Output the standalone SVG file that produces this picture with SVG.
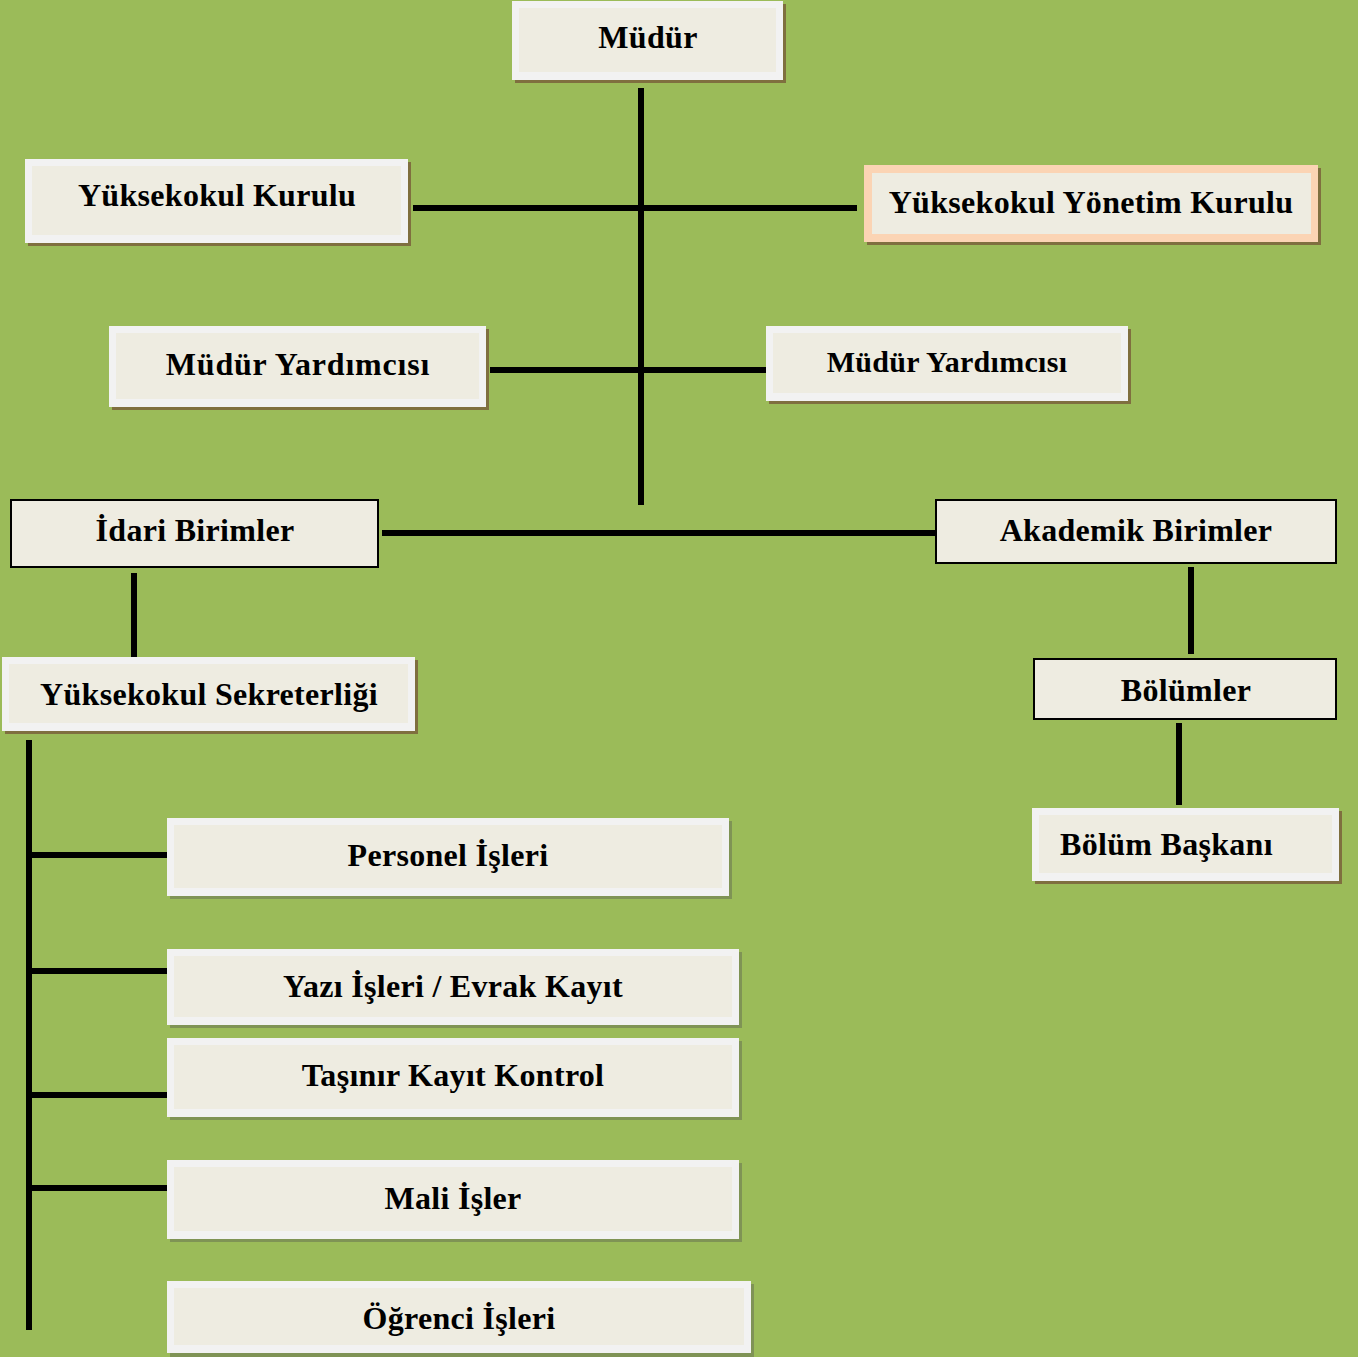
<svg xmlns="http://www.w3.org/2000/svg" width="1358" height="1357" viewBox="0 0 1358 1357">
<style>
.bg{fill:#9bbb59}
.sh{fill:#7f6f3f}
.sg{fill:#7f9355}
.out{fill:#f2f2f2}
.pe{fill:#fbd4b4}
.in{fill:#eeece1}
.bx{fill:#eeece1;stroke:#000;stroke-width:2}
.t{font-family:"Liberation Serif","Times New Roman",serif;font-weight:bold;font-size:32px;letter-spacing:0.3px;fill:#000;text-anchor:middle}
.ln{stroke:#000;stroke-width:6;fill:none}
</style>
<rect class="bg" x="0" y="0" width="1358" height="1357"/>
<g id="connectors">
<line class="ln" x1="641" y1="88" x2="641" y2="505"/>
<line class="ln" x1="413" y1="208" x2="857" y2="208"/>
<line class="ln" x1="490" y1="370" x2="769" y2="370"/>
<line class="ln" x1="382" y1="533" x2="936" y2="533"/>
<line class="ln" x1="134" y1="573" x2="134" y2="657"/>
<line class="ln" x1="1191" y1="567" x2="1191" y2="654"/>
<line class="ln" x1="1179" y1="723" x2="1179" y2="805"/>
<line class="ln" x1="29" y1="740" x2="29" y2="1330"/>
<line class="ln" x1="29" y1="855" x2="170" y2="855"/>
<line class="ln" x1="29" y1="971" x2="167" y2="971"/>
<line class="ln" x1="29" y1="1095" x2="167" y2="1095"/>
<line class="ln" x1="29" y1="1188" x2="170" y2="1188"/>
</g>
<g id="mudur">
<rect class="sh" x="515" y="4" width="271" height="79"/>
<rect class="out" x="512" y="1" width="271" height="79"/>
<rect class="in" x="519" y="8" width="257" height="64"/>
<text class="t" x="648" y="48">Müdür</text>
</g>
<g id="yk-kurulu">
<rect class="sh" x="28" y="162" width="383" height="84"/>
<rect class="out" x="25" y="159" width="383" height="84"/>
<rect class="in" x="32" y="166" width="369" height="69"/>
<text class="t" x="217" y="206">Yüksekokul Kurulu</text>
</g>
<g id="yk-yonetim">
<rect class="sh" x="867" y="168" width="454" height="77"/>
<rect class="pe" x="864" y="165" width="454" height="77"/>
<rect class="in" x="872" y="173" width="439" height="61"/>
<text class="t" x="1091" y="213">Yüksekokul Yönetim Kurulu</text>
</g>
<g id="mudur-yrd-sol">
<rect class="sh" x="112" y="329" width="377" height="81"/>
<rect class="out" x="109" y="326" width="377" height="81"/>
<rect class="in" x="116" y="333" width="363" height="66"/>
<text class="t" x="298" y="375" style="letter-spacing:0.8px">Müdür Yardımcısı</text>
</g>
<g id="mudur-yrd-sag">
<rect class="sh" x="769" y="329" width="362" height="75"/>
<rect class="out" x="766" y="326" width="362" height="75"/>
<rect class="in" x="773" y="333" width="348" height="60"/>
<text class="t" x="947" y="372" style="font-size:30px">Müdür Yardımcısı</text>
</g>
<g id="idari-birimler">
<rect class="bx" x="11" y="500" width="367" height="67"/>
<text class="t" x="195" y="541">İdari Birimler</text>
</g>
<g id="akademik-birimler">
<rect class="bx" x="936" y="500" width="400" height="63"/>
<text class="t" x="1136" y="541">Akademik Birimler</text>
</g>
<g id="bolumler">
<rect class="bx" x="1034" y="659" width="302" height="60"/>
<text class="t" x="1186" y="701">Bölümler</text>
</g>
<g id="yk-sekreterligi">
<rect class="sh" x="5" y="660" width="413" height="74"/>
<rect class="out" x="2" y="657" width="413" height="74"/>
<rect class="in" x="9" y="664" width="399" height="59"/>
<text class="t" x="209" y="705">Yüksekokul Sekreterliği</text>
</g>
<g id="bolum-baskani">
<rect class="sh" x="1035" y="811" width="307" height="73"/>
<rect class="out" x="1032" y="808" width="307" height="73"/>
<rect class="in" x="1039" y="815" width="293" height="58"/>
<text class="t" x="1060" y="855" style="text-anchor:start">Bölüm Başkanı</text>
</g>
<g id="personel-isleri">
<rect class="sg" x="170" y="821" width="562" height="78"/>
<rect class="out" x="167" y="818" width="562" height="78"/>
<rect class="in" x="174" y="825" width="548" height="63"/>
<text class="t" x="448" y="866">Personel İşleri</text>
</g>
<g id="yazi-isleri">
<rect class="sg" x="170" y="952" width="572" height="76"/>
<rect class="out" x="167" y="949" width="572" height="76"/>
<rect class="in" x="174" y="956" width="558" height="61"/>
<text class="t" x="453" y="997">Yazı İşleri / Evrak Kayıt</text>
</g>
<g id="tasinir">
<rect class="sg" x="170" y="1041" width="572" height="79"/>
<rect class="out" x="167" y="1038" width="572" height="79"/>
<rect class="in" x="174" y="1045" width="558" height="64"/>
<text class="t" x="453" y="1086">Taşınır Kayıt Kontrol</text>
</g>
<g id="mali-isler">
<rect class="sg" x="170" y="1163" width="572" height="79"/>
<rect class="out" x="167" y="1160" width="572" height="79"/>
<rect class="in" x="174" y="1167" width="558" height="64"/>
<text class="t" x="453" y="1209">Mali İşler</text>
</g>
<g id="ogrenci-isleri">
<rect class="sg" x="170" y="1284" width="584" height="73"/>
<rect class="out" x="167" y="1281" width="584" height="72"/>
<rect class="in" x="174" y="1288" width="570" height="57"/>
<text class="t" x="459" y="1329">Öğrenci İşleri</text>
</g>
</svg>
